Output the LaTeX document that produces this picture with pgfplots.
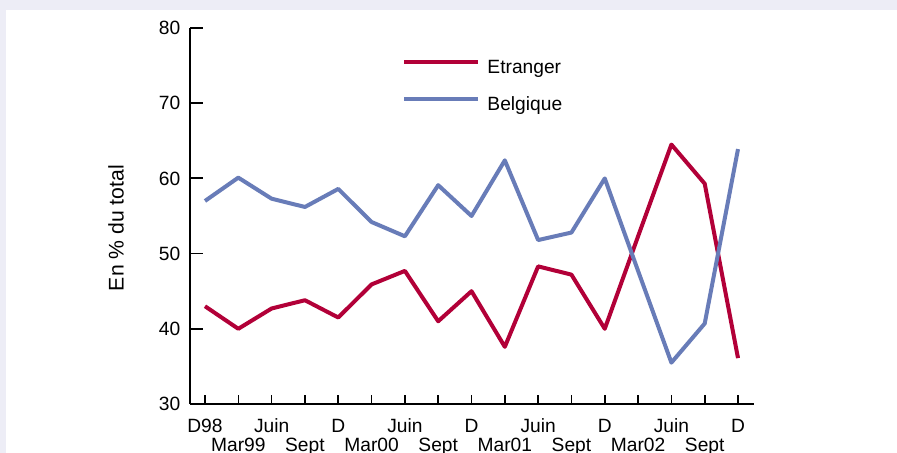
\documentclass[border=0pt]{standalone}
\usepackage{fontspec}
\setmainfont{Liberation Sans}
\usepackage{pgfplots}
\pgfplotsset{compat=1.18}

\definecolor{etr}{RGB}{178,0,56}
\definecolor{bel}{RGB}{104,124,184}
\definecolor{bgc}{RGB}{237,237,246}

\begin{document}
\begin{tikzpicture}
% page background: lavender band top and left
\fill[bgc] (0,0) rectangle (448.5pt,226.5pt);
\fill[white] (3pt,0) rectangle (448.5pt,221.5pt);
\useasboundingbox (0,0) rectangle (448.5pt,226.5pt);

\node[rotate=90, font=\fontsize{10.6}{12}\selectfont] at (58pt,112.5pt) {En \% du total};

\begin{axis}[
    at={(95pt,24.5pt)}, anchor=south west,
    scale only axis,
    width=282pt, height=188pt,
    xmin=-0.45, xmax=16.48,
    ymin=30, ymax=80,
    axis x line*=bottom,
    axis y line*=left,
    axis line style={line width=1pt},
    tick align=inside,
    major tick length=6.5pt,
    xtick style={/pgfplots/major tick length=4.5pt, line width=0.8pt, black},
    ytick style={line width=0.9pt, black},
    ytick={30,40,...,80},
    xtick={0,2,...,16},
    xticklabels={D98,Juin,D,Juin,D,Juin,D,Juin,D},
    extra x ticks={1,3,...,15},
    extra x tick labels={Mar99,Sept,Mar00,Sept,Mar01,Sept,Mar02,Sept},
    extra x tick style={xticklabel style={yshift=-9.5pt}},
    xticklabel style={yshift=-4pt},
    yticklabel style={xshift=-1.3pt},
    tick label style={font=\fontsize{9.6}{11}\selectfont},
    /pgf/number format/assume math mode=true,
    legend style={at={(0.376,0.9176)}, anchor=north west, draw=none, fill=none,
        inner sep=0pt, row sep=9.5pt, column sep=3.5pt,
        nodes={inner sep=0pt, text height=7pt, text depth=2pt},
        font=\fontsize{9.6}{11}\selectfont},
    legend cell align=left,
    legend image code/.code={\draw[#1] (0pt,3.4pt) -- (37pt,3.4pt);},
    every axis plot/.append style={line width=2pt, line join=round},
]
\addplot[etr] coordinates {
(0,43.0) (1,40.0) (2,42.7) (3,43.8) (4,41.5) (5,45.9) (6,47.7) (7,41.0) (8,45.0)
(9,37.6) (10,48.3) (11,47.2) (12,40.0) (13,52.3) (14,64.5) (15,59.3) (16,36.1)};
\addlegendentry{Etranger}
\addplot[bel] coordinates {
(0,57.0) (1,60.1) (2,57.3) (3,56.2) (4,58.6) (5,54.2) (6,52.3) (7,59.1) (8,55.0)
(9,62.4) (10,51.8) (11,52.8) (12,60.0) (13,47.7) (14,35.5) (15,40.7) (16,63.9)};
\addlegendentry{Belgique}
\end{axis}
\end{tikzpicture}
\end{document}
